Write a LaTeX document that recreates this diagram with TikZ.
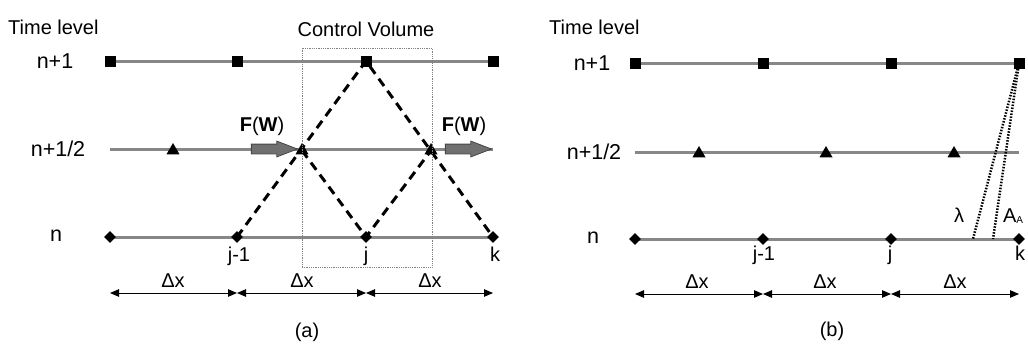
\documentclass[tikz,border=0pt]{standalone}
\usepackage{fontspec}
\setmainfont{Liberation Sans}
\definecolor{levelgray}{RGB}{135,135,135}
\definecolor{fluxgray}{RGB}{112,112,112}
\definecolor{fluxedge}{RGB}{70,70,70}
\usetikzlibrary{
    arrows.meta,
    shapes.geometric,
    shapes.arrows,
    backgrounds
}

\begin{document}
\begin{tikzpicture}[x=1pt, y=-1pt, font=\fontsize{20}{24}\selectfont,
    sqmark/.style={rectangle, fill=black, inner sep=0pt, minimum size=11pt},
    trmark/.style={regular polygon, regular polygon sides=3, fill=black, inner sep=0pt, minimum size=15pt},
    dmmark/.style={diamond, fill=black, inner sep=0pt, minimum size=12pt},
    level/.style={levelgray, line width=3pt},
    lvtext/.style={font=\fontsize{21.5}{24}\selectfont},
    charline/.style={black, line width=3pt, dash pattern=on 9pt off 6pt},
    waveline/.style={black, line width=2.5pt, dash pattern=on 1.5pt off 1.5pt},
    dimarrow/.style={line width=1pt, {Triangle[length=9pt,width=7.5pt]}-{Triangle[length=9pt,width=7.5pt]}},
    flux/.style={single arrow, fill=fluxgray, draw=fluxedge, line width=0.8pt, inner sep=4.5pt,
        single arrow head extend=3pt, single arrow tip angle=42, minimum height=46pt},
    lbl/.style={inner sep=0pt, anchor=base}]
    \useasboundingbox (0,0) rectangle (1028,349);

    % (a) grid points
    \foreach \i/\x in {1/110,2/237,3/366,4/493}{
        \node[sqmark] (a\i) at (\x,61) {};
        \node[dmmark] (an\i) at (\x,237) {};
        \coordinate (ad\i) at (\x,293);
    }
    \foreach \i/\x in {1/173,2/302,3/431}
        \node[trmark] (ah\i) at (\x,150.5) {};
    \coordinate (ahl) at (110,149);
    \coordinate (ahr) at (493,149);

    % (a) control volume
    \node[draw=gray, densely dotted, line width=0.8pt, inner sep=0pt,
        minimum width=130pt, minimum height=219pt] (cv) at (367,157.5) {};
    \node[lbl] (cvtext) at (366,36) {Control Volume};

    % (a) fluxes
    \node[flux] (fa1) at (268,149) {};
    \node[flux] (fa2) at (462,149) {};
    \node[lbl] (fl1) at (262,131) {\textbf{F}(\textbf{W})};
    \node[lbl] (fl2) at (464,131) {\textbf{F}(\textbf{W})};

    % (a) labels
    \node[lbl, anchor=west] (ta) at (8,27) {Time level};
    \node[lvtext] (la1) at (55,61) {n+1};
    \node[lvtext] (la2) at (58,149) {n+1/2};
    \node[lvtext] (la3) at (56,236) {n};
    \node[lbl] (ja1) at (239,261) {j-1};
    \node[lbl] (ja2) at (366,261) {j};
    \node[lbl] (ja3) at (495,261) {k};
    \node[lbl] (xa1) at (173,287) {Δx};
    \node[lbl] (xa2) at (302,287) {Δx};
    \node[lbl] (xa3) at (430,287) {Δx};
    \node[lbl] (capa) at (307,337) {(a)};

    % (b) grid points
    \foreach \i/\x in {1/635,2/763,3/891,4/1019}{
        \node[sqmark] (b\i) at (\x,63) {};
        \node[dmmark] (bn\i) at (\x,239) {};
        \coordinate (bd\i) at (\x,294);
    }
    \foreach \i/\x in {1/699,2/826,3/954}
        \node[trmark] (bh\i) at (\x,153.5) {};
    \coordinate (bhl) at (635,152);
    \coordinate (bhr) at (1019,152);
    \coordinate (lam) at (973,239);
    \coordinate (aa) at (993,239);

    % (b) labels
    \node[lbl, anchor=west] (tb) at (549,27) {Time level};
    \node[lvtext] (lb1) at (592,63) {n+1};
    \node[lvtext] (lb2) at (594,152) {n+1/2};
    \node[lvtext] (lb3) at (593,238) {n};
    \node[lbl] (jb1) at (764,260) {j-1};
    \node[lbl] (jb2) at (890,260) {j};
    \node[lbl] (jb3) at (1020,260) {k};
    \node[lbl] (xb1) at (697,288) {Δx};
    \node[lbl] (xb2) at (825,288) {Δx};
    \node[lbl] (xb3) at (955,288) {Δx};
    \node[lbl] (lamtext) at (959,222) {λ};
    \node[lbl] (aatext) at (1013,222) {A\raisebox{-1pt}{\fontsize{10}{10}\selectfont A}};
    \node[lbl] (capb) at (832,336) {(b)};

    \begin{scope}[on background layer]
        % time levels
        \draw[level] (a1.center) -- (a4.center);
        \draw[level] (ahl) -- (ahr);
        \draw[level] (an1.center) -- (an4.center);
        \draw[level] (b1.center) -- (b4.center);
        \draw[level] (bhl) -- (bhr);
        \draw[level] (bn1.center) -- (bn4.center);

        % characteristics
        \draw[charline] (an2.center) -- (a3.center) -- (an4.center);
        \draw[charline] (ah2.center) -- (an3.center) -- (ah3.center);
        \draw[waveline] (b4.center) -- (lam);
        \draw[waveline] (b4.center) -- (aa);
    \end{scope}

    % spacing
    \draw[dimarrow] (ad1) -- (ad2);
    \draw[dimarrow] (ad2) -- (ad3);
    \draw[dimarrow] (ad3) -- (ad4);
    \draw[dimarrow] (bd1) -- (bd2);
    \draw[dimarrow] (bd2) -- (bd3);
    \draw[dimarrow] (bd3) -- (bd4);
\end{tikzpicture}
\end{document}
